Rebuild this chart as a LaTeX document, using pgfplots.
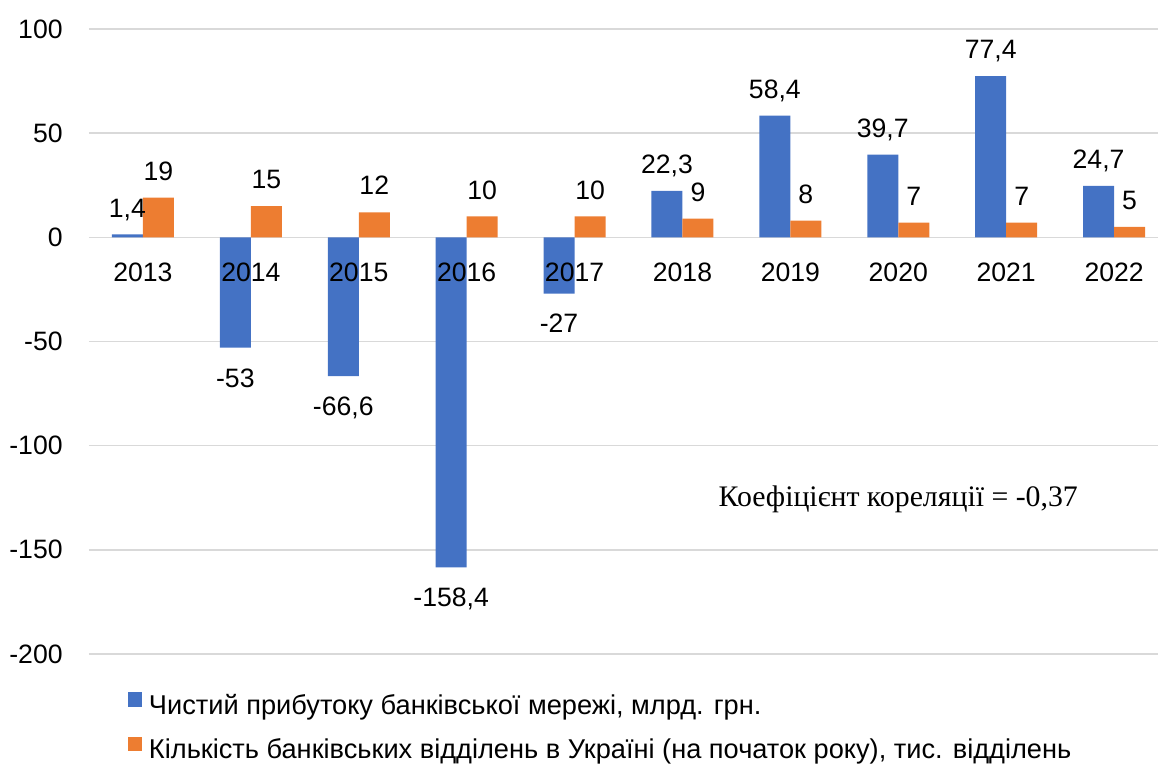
\documentclass[border=0pt]{standalone}
\usepackage{pgfplots}
\pgfplotsset{compat=1.18}
\usepackage{fontspec}
\setmainfont{Liberation Sans}
\newfontfamily\timesfont{Liberation Serif}
\definecolor{xlblue}{HTML}{4472C4}
\definecolor{xlorange}{HTML}{ED7D31}
\definecolor{gridgray}{HTML}{D9D9D9}
\pgfplotsset{
  frame/.style={
    scale only axis, width=534.5pt, height=312.5pt,
    xmin=-0.5, xmax=9.407, ymin=-200, ymax=100,
    axis line style={draw=none},
    tick style={draw=none},
    major tick length=0pt,
    /pgf/number format/.cd, use comma, assume math mode=true, 1000 sep={},
    /pgfplots/.cd,
    ticklabel style={font=\fontsize{13.3}{16}\selectfont},
  },
}
\begin{document}
\begin{tikzpicture}
\useasboundingbox (-44.5pt,-55.5pt) rectangle (534.5pt,327pt);
\begin{axis}[
  frame,
  ytick={-200,-150,-100,-50,0,50,100},
  xtick=\empty,
  ymajorgrids, grid style={gridgray, line width=0.75pt},
  ybar=0pt, bar width=15.5pt,
  yticklabel style={anchor=east, inner sep=0pt, xshift=-13pt},
  nodes near coords,
  nodes near coords align={vertical},
  every node near coord/.append style={font=\fontsize{13.3}{16}\selectfont, text=black, inner xsep=0pt, inner ysep=8.5pt, text height=11pt, text depth=0pt},
  legend style={at={(rel axis cs:0,0)}, anchor=north west, xshift=19.2pt, yshift=-18.9pt,
    draw=none, fill=none, inner sep=0pt, font=\fontsize{13.6}{16}\selectfont,
    row sep=8.2pt, nodes={inner sep=0pt, text height=10pt, text depth=3pt},
    /tikz/every odd column/.append style={column sep=3.4pt}},
  legend cell align=left,
]
\addplot[fill=xlblue, draw=none,
  legend image code/.code={\fill[xlblue] (0pt,0.3pt) rectangle (7.2pt,7.5pt);}]
  coordinates {(0,1.4) (1,-53) (2,-66.6) (3,-158.4) (4,-27) (5,22.3) (6,58.4) (7,39.7) (8,77.4) (9,24.7)};
\addlegendentry{Чистий прибутоку банківської мережі, млрд. грн.}
\addplot[fill=xlorange, draw=none,
  legend image code/.code={\fill[xlorange] (0pt,0.3pt) rectangle (7.2pt,7.5pt);}]
  coordinates {(0,19) (1,15) (2,12) (3,10) (4,10) (5,9) (6,8) (7,7) (8,7) (9,5)};
\addlegendentry{Кількість банківських відділень в Україні (на початок року), тис. відділень}
\node[font=\timesfont\fontsize{14.9}{18}\selectfont] at (axis cs:7,-126) {Коефіцієнт кореляції = -0,37};
\end{axis}
\begin{axis}[
  frame,
  ytick=\empty,
  xtick={0,1,2,3,4,5,6,7,8,9},
  xticklabels={2013,2014,2015,2016,2017,2018,2019,2020,2021,2022},
  xticklabel style={anchor=north, inner sep=0pt, yshift=195.83pt},
]
\end{axis}
\end{tikzpicture}
\end{document}
